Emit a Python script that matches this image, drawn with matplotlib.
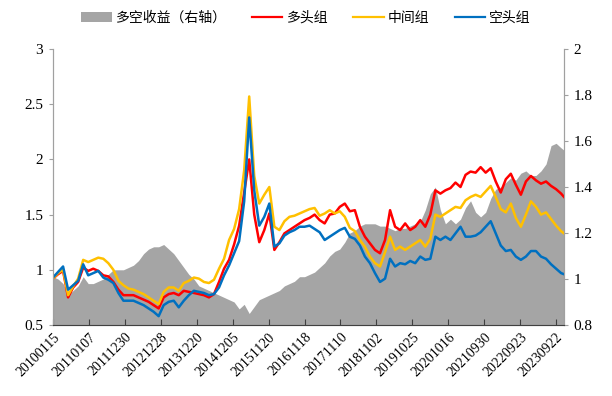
import numpy as np
import matplotlib
matplotlib.use("Agg")
import matplotlib.pyplot as plt
import matplotlib.transforms as mtransforms
from matplotlib.patches import Patch
from matplotlib.lines import Line2D

plt.rcParams["font.family"] = ["Liberation Serif", "Noto Sans CJK SC"]

# ---------------------------------------------------------------------------
# 数据（周度，每 7 周取一个点）
# ---------------------------------------------------------------------------
tick_labels = ["20100115", "20110107", "20111230", "20121228", "20131220",
               "20141205", "20151120", "20161118", "20171110", "20181102",
               "20191025", "20201016", "20210930", "20220923", "20230922"]

long_grp = [0.92, 0.96, 0.99, 0.75, 0.84, 0.89, 1.02, 0.99, 1.01, 0.99,
            0.95, 0.94, 0.89, 0.82, 0.77, 0.77, 0.77, 0.75, 0.73, 0.71,
            0.68, 0.65, 0.75, 0.78, 0.79, 0.77, 0.81, 0.80, 0.79, 0.78,
            0.77, 0.75, 0.78, 0.89, 1.01, 1.09, 1.23, 1.40, 1.70, 2.00,
            1.50, 1.25, 1.36, 1.51, 1.18, 1.25, 1.33, 1.36, 1.39, 1.42,
            1.45, 1.47, 1.50, 1.45, 1.42, 1.50, 1.51, 1.57, 1.60, 1.53,
            1.54, 1.39, 1.30, 1.24, 1.18, 1.15, 1.27, 1.54, 1.39, 1.36,
            1.42, 1.36, 1.39, 1.45, 1.39, 1.50, 1.72, 1.69, 1.72, 1.74,
            1.79, 1.75, 1.86, 1.89, 1.88, 1.93, 1.88, 1.92, 1.80, 1.70,
            1.82, 1.87, 1.77, 1.68, 1.80, 1.85, 1.81, 1.78, 1.80, 1.76,
            1.73, 1.69, 1.66]

mid_grp = [0.92, 0.97, 1.00, 0.77, 0.85, 0.92, 1.09, 1.07, 1.09, 1.11,
           1.10, 1.06, 1.00, 0.90, 0.86, 0.83, 0.82, 0.80, 0.78, 0.75,
           0.72, 0.69, 0.80, 0.84, 0.84, 0.81, 0.88, 0.90, 0.93, 0.92,
           0.89, 0.88, 0.91, 1.01, 1.10, 1.27, 1.37, 1.55, 1.90, 2.57,
           1.85, 1.60, 1.68, 1.75, 1.39, 1.36, 1.44, 1.48, 1.49, 1.51,
           1.53, 1.55, 1.56, 1.49, 1.51, 1.54, 1.51, 1.53, 1.48, 1.38,
           1.35, 1.27, 1.21, 1.12, 1.06, 1.03, 1.16, 1.30, 1.18, 1.21,
           1.18, 1.21, 1.24, 1.27, 1.21, 1.28, 1.50, 1.48, 1.51, 1.54,
           1.57, 1.56, 1.63, 1.66, 1.68, 1.66, 1.71, 1.76, 1.66, 1.55,
           1.52, 1.60, 1.47, 1.39, 1.50, 1.62, 1.57, 1.50, 1.52, 1.46,
           1.40, 1.35, 1.33]

short_grp = [0.93, 0.98, 1.03, 0.82, 0.86, 0.90, 1.05, 0.95, 0.97, 0.99,
             0.93, 0.91, 0.88, 0.79, 0.72, 0.72, 0.72, 0.70, 0.68, 0.65,
             0.62, 0.58, 0.68, 0.71, 0.72, 0.66, 0.72, 0.77, 0.81, 0.80,
             0.79, 0.77, 0.78, 0.84, 0.95, 1.04, 1.15, 1.26, 1.62, 2.38,
             1.72, 1.40, 1.48, 1.60, 1.21, 1.24, 1.31, 1.34, 1.36, 1.39,
             1.39, 1.40, 1.37, 1.34, 1.27, 1.30, 1.33, 1.36, 1.38, 1.30,
             1.28, 1.22, 1.12, 1.06, 0.97, 0.89, 0.92, 1.10, 1.03, 1.06,
             1.05, 1.08, 1.06, 1.12, 1.09, 1.10, 1.30, 1.27, 1.30, 1.27,
             1.33, 1.39, 1.30, 1.30, 1.31, 1.34, 1.39, 1.44, 1.33, 1.22,
             1.17, 1.18, 1.12, 1.09, 1.12, 1.17, 1.17, 1.12, 1.10, 1.05,
             1.01, 0.97, 0.96]

long_short = [1.01, 1.00, 0.98, 0.93, 0.95, 0.97, 1.01, 0.98, 0.98, 0.99,
              1.00, 1.02, 1.04, 1.04, 1.04, 1.05, 1.06, 1.08, 1.11, 1.13,
              1.14, 1.14, 1.15, 1.13, 1.11, 1.08, 1.05, 1.02, 1.00, 0.97,
              0.96, 0.95, 0.94, 0.93, 0.92, 0.91, 0.90, 0.87, 0.89, 0.85,
              0.88, 0.91, 0.92, 0.93, 0.94, 0.95, 0.97, 0.98, 0.99, 1.01,
              1.01, 1.02, 1.03, 1.05, 1.07, 1.10, 1.12, 1.13, 1.16, 1.20,
              1.21, 1.23, 1.24, 1.24, 1.24, 1.23, 1.23, 1.22, 1.21, 1.22,
              1.22, 1.23, 1.24, 1.25, 1.30, 1.37, 1.40, 1.30, 1.24, 1.26,
              1.24, 1.26, 1.31, 1.34, 1.29, 1.27, 1.29, 1.35, 1.39, 1.40,
              1.42, 1.44, 1.43, 1.46, 1.47, 1.45, 1.45, 1.47, 1.50, 1.58,
              1.59, 1.57, 1.56]

STEP = 7
TICK_EVERY = 50
LAST_WEEK = 711

weeks = np.arange(len(long_grp)) * STEP
weeks[-1] = LAST_WEEK
tick_pos = np.arange(len(tick_labels)) * TICK_EVERY

# ---------------------------------------------------------------------------
fig = plt.figure(figsize=(6.12, 3.96), dpi=100)
ax = fig.add_axes([53 / 612, 1 - 325 / 396, 511 / 612, 276 / 396])
ax2 = ax.twinx()

ax2.fill_between(weeks, 0, long_short, color="#A5A5A5", lw=0, zorder=1)
ax2.set_ylim(0.8, 2.0)
ax2.set_yticks([0.8, 1.0, 1.2, 1.4, 1.6, 1.8, 2.0])
ax2.set_yticklabels(["0.8", "1", "1.2", "1.4", "1.6", "1.8", "2"])

ax.set_zorder(ax2.get_zorder() + 1)
ax.patch.set_visible(False)

ax.plot(weeks, long_grp, color="#FF0000", lw=1.8)
ax.plot(weeks, mid_grp, color="#FFC000", lw=1.8)
ax.plot(weeks, short_grp, color="#0070C0", lw=1.8)

ax.set_xlim(0, LAST_WEEK)
ax.set_ylim(0.5, 3.0)
ax.set_yticks([0.5, 1.0, 1.5, 2.0, 2.5, 3.0])
ax.set_yticklabels(["0.5", "1", "1.5", "2", "2.5", "3"])
ax.set_xticks(tick_pos)
ax.set_xticklabels(tick_labels, rotation=45, ha="right", rotation_mode="anchor")

# 标签整体右移一点，和原图一致
offset = mtransforms.ScaledTranslation(9 / 100, -3 / 100, fig.dpi_scale_trans)
for lab in ax.get_xticklabels():
    lab.set_transform(lab.get_transform() + offset)

for a in (ax, ax2):
    a.spines["top"].set_visible(False)
    for s in ("left", "right", "bottom"):
        a.spines[s].set_color("#A0A0A0")
        a.spines[s].set_linewidth(0.8)
ax.spines["bottom"].set_color("#404040")

ax.tick_params(axis="y", direction="out", length=3, color="#A0A0A0",
               labelsize=11, pad=4)
ax2.tick_params(axis="y", direction="out", length=3, color="#A0A0A0",
                labelsize=11, pad=4)
ax.tick_params(axis="x", direction="in", length=4, color="#404040",
               labelsize=10, pad=4)

handles = [
    Patch(facecolor="#A5A5A5", edgecolor="none", label="多空收益（右轴）"),
    Line2D([], [], color="#FF0000", lw=1.6, label="多头组"),
    Line2D([], [], color="#FFC000", lw=1.6, label="中间组"),
    Line2D([], [], color="#0070C0", lw=1.6, label="空头组"),
]
fig.legend(handles=handles, loc="center", bbox_to_anchor=(0.5, 1 - 18 / 396),
           ncol=4, frameon=False, handlelength=2.2,
           handletextpad=0.3, columnspacing=1.8,
           prop={"family": ["Noto Sans CJK SC"], "size": 10})

fig.savefig("out.png", dpi=100)
